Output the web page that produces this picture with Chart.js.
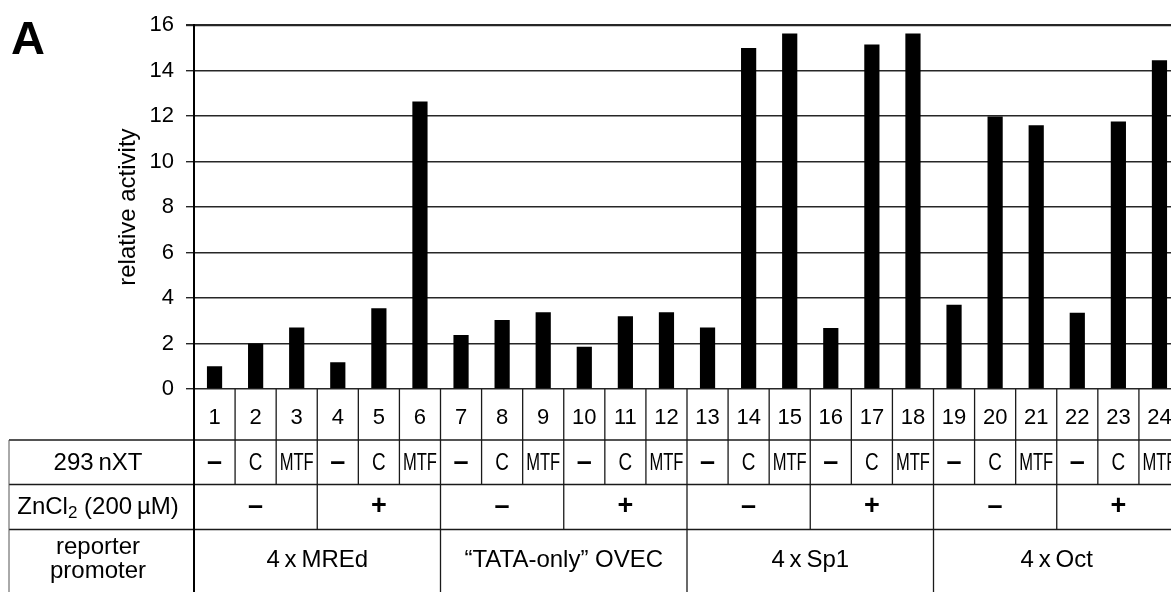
<!DOCTYPE html>
<html><head><meta charset="utf-8">
<script src="https://cdn.jsdelivr.net/npm/chart.js@4.4.1/dist/chart.umd.min.js"></script>
<style>
html,body{margin:0;padding:0;background:#fff;overflow:hidden;width:1171px;height:592px}
#wrap{position:relative;width:1171px;height:592px;overflow:hidden;background:#fff}
#panel{position:absolute;left:11px;top:14px;font:bold 47px "Liberation Sans",Arial,Helvetica,sans-serif;color:#000;line-height:1}
canvas{position:absolute;left:0;top:0}
</style></head><body>
<div id="wrap"><canvas id="c" width="1186" height="592"></canvas><div id="panel">A</div></div>
<script>
// ---- data ----
const lanes = ['1','2','3','4','5','6','7','8','9','10','11','12','13','14','15','16','17','18','19','20','21','22','23','24'];
const activity = [1.0, 2.0, 2.7, 1.18, 3.55, 12.64, 2.37, 3.03, 3.38, 1.86, 3.2, 3.38, 2.7, 15.0, 15.64, 2.68, 15.15, 15.64, 3.71, 11.98, 11.6, 3.35, 11.77, 14.46];
const yTicks = [0, 2, 4, 6, 8, 10, 12, 14, 16];
const factorRow = ['–','C','MTF','–','C','MTF','–','C','MTF','–','C','MTF','–','C','MTF','–','C','MTF','–','C','MTF','–','C','MTF'];
const zincGroups = ['–','+','–','+','–','+','–','+'];
const promoterGroups = ['4\u2009x\u2009MREd', '“TATA-only” OVEC', '4\u2009x\u2009Sp1', '4\u2009x\u2009Oct'];
const rowLabels = ['293\u2009nXT', 'ZnCl|2| (200\u2009µM)', 'reporter|promoter'];
const yTitle = 'relative activity';

const FONT = '"Liberation Sans", Arial, Helvetica, sans-serif';

function txt(ctx, s, x, y, size, o) {
  o = o || {};
  ctx.save();
  ctx.font = (o.bold ? 'bold ' : '') + size + 'px ' + FONT;
  ctx.textAlign = 'center'; ctx.textBaseline = 'middle'; ctx.fillStyle = '#000';
  ctx.translate(x, y); ctx.scale(o.sx || 1, 1);
  ctx.fillText(s, 0, 0);
  ctx.restore();
}
function seg(ctx, x1, y1, x2, y2) { ctx.beginPath(); ctx.moveTo(x1, y1); ctx.lineTo(x2, y2); ctx.stroke(); }

const tablePlugin = {
  id: 'table',
  afterDraw(chart) {
    const ctx = chart.ctx, ca = chart.chartArea, x = chart.scales.x;
    const step = x.getPixelForValue(1) - x.getPixelForValue(0);
    const edge = i => x.getPixelForValue(0) - step / 2 + i * step;
    const n = lanes.length;
    const left = 9, right = edge(n), H = chart.height;
    const y0 = ca.bottom, y1 = y0 + 51, y2 = y1 + 44.5, y3 = y2 + 45;
    ctx.save();
    ctx.strokeStyle = '#1a1a1a'; ctx.lineWidth = 1.3;
    seg(ctx, left, y1, right, y1);
    seg(ctx, left, y2, right, y2);
    seg(ctx, left, y3, right, y3);
    ctx.strokeStyle = '#555'; ctx.lineWidth = 1;
    seg(ctx, left, y1, left, H);
    ctx.strokeStyle = '#1a1a1a'; ctx.lineWidth = 1.3;
    for (let i = 1; i <= n; i++) seg(ctx, edge(i), y0, edge(i), y2);
    for (let i = 3; i <= n; i += 3) seg(ctx, edge(i), y2, edge(i), y3);
    for (let i = 6; i <= n; i += 6) seg(ctx, edge(i), y3, edge(i), H);
    ctx.lineWidth = 2; ctx.strokeStyle = '#000';
    seg(ctx, ca.left, y0, ca.left, H);

    for (let i = 0; i < n; i++) {
      const cx = x.getPixelForValue(i);
      txt(ctx, lanes[i], cx, (y0 + y1) / 2 + 3, 22);
      const f = factorRow[i];
      if (f === '–') txt(ctx, f, cx, (y1 + y2) / 2, 27, { bold: true });
      else txt(ctx, f, cx, (y1 + y2) / 2 + 1, 23, { sx: f === 'MTF' ? 0.72 : 0.82 });
    }
    zincGroups.forEach((g, k) => {
      const cx = (edge(k * 3) + edge(k * 3 + 3)) / 2;
      txt(ctx, g, cx, (y2 + y3) / 2, 27, { bold: true });
    });
    promoterGroups.forEach((g, k) => {
      const cx = (edge(k * 6) + edge(k * 6 + 6)) / 2;
      txt(ctx, g, cx, 560, 24);
    });
    const lx = 98;
    txt(ctx, rowLabels[0], lx, (y1 + y2) / 2 + 1, 24);
    const zp = rowLabels[1].split('|');
    ctx.textBaseline = 'middle'; ctx.textAlign = 'left'; ctx.fillStyle = '#000';
    ctx.font = '24px ' + FONT; const w1 = ctx.measureText(zp[0]).width, w3 = ctx.measureText(zp[2]).width;
    ctx.font = '17px ' + FONT; const w2 = ctx.measureText(zp[1]).width;
    let sx = lx - (w1 + w2 + w3) / 2; const zy = (y2 + y3) / 2;
    ctx.font = '24px ' + FONT; ctx.fillText(zp[0], sx, zy);
    ctx.font = '17px ' + FONT; ctx.fillText(zp[1], sx + w1, zy + 6);
    ctx.font = '24px ' + FONT; ctx.fillText(zp[2], sx + w1 + w2, zy);
    const rp = rowLabels[2].split('|');
    txt(ctx, rp[0], lx, 547, 24);
    txt(ctx, rp[1], lx, 571, 24);
    ctx.restore();
  }
};

new Chart(document.getElementById('c'), {
  type: 'bar',
  data: {
    labels: lanes,
    datasets: [{ data: activity, backgroundColor: '#000', borderWidth: 0, barPercentage: 0.37, categoryPercentage: 1.0 }]
  },
  options: {
    responsive: false, animation: false, devicePixelRatio: 1,
    layout: { padding: { left: 114, right: 6, top: 19, bottom: 203 } },
    plugins: { legend: { display: false }, tooltip: { enabled: false } },
    scales: {
      x: { display: false, offset: true },
      y: {
        min: 0, max: 16,
        afterFit: s => { s.width = 80; },
        afterBuildTicks: s => { s.ticks = yTicks.map(v => ({ value: v })); },
        ticks: { color: '#000', padding: 12, font: { family: FONT, size: 22 } },
        grid: { color: '#262626', lineWidth: c => (c.tick && c.tick.value === 16 ? 2.2 : 1.4), tickLength: 8, drawTicks: true },
        border: { display: true, color: '#000', width: 2 },
        title: { display: true, text: yTitle, color: '#000', padding: { top: 0, bottom: 0 }, font: { family: FONT, size: 24 } }
      }
    }
  },
  plugins: [tablePlugin]
});
</script>
</body></html>
